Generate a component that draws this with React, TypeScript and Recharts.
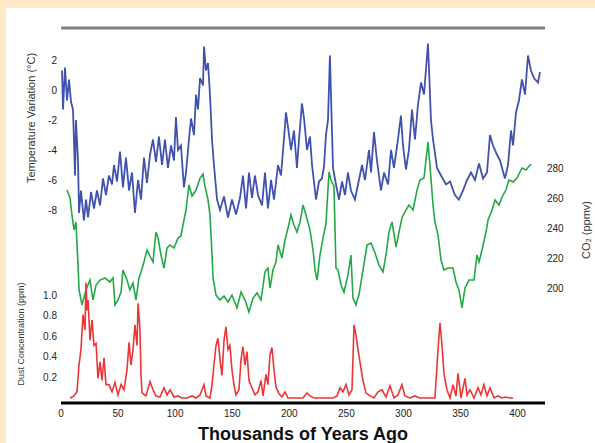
import { ComposedChart, LineChart, Line, XAxis, YAxis } from "recharts";

// thousands of years before present
const ageTicks = [0, 50, 100, 150, 200, 250, 300, 350, 400];
const tempTicks = [-8, -6, -4, -2, 0, 2];
const co2Ticks = [200, 220, 240, 260, 280];
const dustTicks = [0.2, 0.4, 0.6, 0.8, 1.0];

const tempAge = [0.9,1.8,3.5,5.3,7.0,8.8,10.5,12.3,13.1,14.9,15.8,17.5,20.1,21.9,23.7,26.3,28.9,31.5,34.2,36.8,39.4,42.0,44.7,46.4,49.1,51.7,54.3,56.9,59.6,62.2,64.8,67.5,70.1,72.7,75.3,78.0,80.6,83.2,85.8,88.5,91.1,93.7,96.4,99.0,100.7,102.5,105.1,107.7,109.5,112.1,113.9,116.5,118.3,120.0,121.8,124.4,125.3,127.0,128.8,130.5,132.3,134.0,136.7,139.3,142.8,146.3,149.8,153.3,156.8,159.4,162.1,164.7,167.3,169.9,172.6,176.1,178.7,181.3,184.0,186.6,190.1,192.7,195.3,197.1,198.9,201.5,204.1,206.7,208.5,211.1,212.9,215.5,218.1,219.9,223.4,226.0,228.6,230.4,232.1,233.9,235.6,236.5,238.3,240.9,243.5,246.2,248.8,251.4,254.0,257.5,260.2,263.7,266.3,269.8,271.6,274.2,276.8,280.3,283.0,286.5,289.1,291.7,295.2,297.8,299.6,302.2,304.8,307.5,310.1,312.7,315.4,318.0,321.5,324.1,325.9,329.4,332.9,337.3,340.8,345.1,348.6,352.2,355.7,359.2,362.7,366.2,369.7,373.2,375.8,378.4,381.9,384.6,388.9,391.6,394.2,396.0,398.6,401.2,403.8,406.5,409.1,411.7,414.3,417.9,419.6];
const tempValue = [1.3,-1.3,1.5,-0.7,0.7,-0.8,-1.3,-5.7,-2.0,-4.7,-8.2,-6.7,-8.7,-7.3,-8.5,-6.8,-7.9,-6.7,-7.7,-5.9,-7.0,-5.7,-6.3,-5.0,-6.1,-4.1,-6.5,-4.5,-6.7,-5.5,-8.2,-6.0,-7.3,-4.5,-6.2,-4.3,-3.3,-4.8,-3.1,-5.0,-3.3,-5.2,-3.7,-4.7,-1.8,-4.0,-3.7,-6.5,-5.5,-3.3,-1.9,-3.0,-0.3,-1.3,0.8,0.3,2.9,1.3,1.8,-0.3,-3.3,-5.0,-7.3,-8.0,-7.1,-8.5,-7.3,-8.3,-7.2,-5.7,-7.9,-5.5,-7.2,-5.7,-7.0,-7.7,-5.5,-7.9,-6.0,-7.3,-5.0,-5.7,-3.3,-1.5,-2.5,-4.0,-2.7,-5.2,-3.3,-0.9,-1.9,-4.0,-3.1,-5.0,-7.3,-6.1,-5.9,-5.1,-3.0,-2.0,2.3,-0.3,-5.2,-6.3,-7.3,-6.1,-7.0,-5.5,-6.7,-7.3,-6.3,-5.0,-6.0,-4.0,-5.5,-2.8,-4.7,-6.7,-5.5,-6.3,-4.0,-5.2,-3.3,-1.7,-3.7,-5.3,-4.0,-1.3,-3.3,-1.0,0.5,-0.3,3.1,-2.0,-3.3,-5.2,-5.7,-6.3,-6.1,-7.0,-7.3,-6.7,-6.0,-5.5,-6.0,-4.9,-5.9,-5.5,-3.0,-3.7,-4.3,-4.7,-5.9,-5.0,-2.7,-3.7,-1.5,-0.7,0.7,-0.3,2.3,1.3,0.8,0.5,1.2];

const co2Age = [5.3,7.9,9.6,11.4,13.1,14.9,15.8,18.4,21.9,25.4,28.0,30.7,34.2,38.5,42.9,45.6,47.3,49.9,52.6,54.3,57.8,60.4,63.1,65.7,68.3,70.1,72.7,75.3,78.8,80.6,83.2,85.0,87.6,90.2,92.9,95.5,99.0,102.5,105.1,106.9,109.5,112.1,114.8,118.3,121.8,124.4,126.1,128.8,130.5,132.3,133.2,135.8,139.3,142.8,146.3,149.8,154.2,157.7,161.2,164.7,168.2,171.7,175.2,178.7,181.3,183.1,185.7,188.3,190.1,193.6,196.2,198.9,201.5,204.1,206.7,209.4,212.0,214.6,218.1,220.8,222.5,224.3,226.9,229.5,232.1,234.8,236.5,239.1,240.9,242.7,245.3,247.9,251.4,254.0,255.8,258.4,261.0,264.6,268.1,271.6,275.1,278.6,282.1,284.7,287.3,290.0,293.5,296.1,298.7,301.3,304.8,308.4,311.9,314.5,318.0,321.5,323.2,325.9,327.6,330.3,332.9,335.5,339.0,343.4,346.0,348.6,351.3,353.9,357.4,361.8,364.4,366.2,368.8,372.3,374.1,377.6,380.2,383.7,387.2,389.8,392.4,396.0,399.5,403.8,407.3,411.7];
const co2Value = [265.3,260.0,248.7,238.7,244.0,215.3,198.7,188.7,198.7,205.3,192.0,202.0,205.3,206.7,204.0,206.7,188.7,192.0,197.3,212.0,205.3,198.7,203.3,192.0,206.7,210.7,217.3,225.3,220.0,217.3,237.3,233.3,222.0,213.3,226.7,228.7,226.7,233.3,234.7,242.0,252.0,268.7,261.3,265.3,273.3,276.0,268.0,258.7,248.7,222.0,206.7,195.3,192.0,194.7,190.7,195.3,186.7,197.3,192.0,184.0,193.3,196.7,192.0,210.7,213.3,200.0,212.0,217.3,228.7,220.0,232.0,240.0,248.7,242.0,237.3,244.0,255.3,248.7,238.7,225.3,212.0,205.3,222.0,233.3,242.7,277.3,272.0,268.0,213.3,212.0,202.0,197.3,208.7,222.0,193.3,188.7,195.3,212.0,228.7,230.0,223.3,215.3,210.7,222.0,237.3,244.0,227.3,237.3,246.7,250.7,255.3,252.0,265.3,272.0,273.3,297.3,282.0,255.3,244.0,235.3,218.7,212.0,213.3,213.3,204.0,198.7,186.7,200.0,205.3,205.3,222.0,217.3,225.3,237.3,245.3,252.0,258.7,255.3,262.0,265.3,272.0,270.7,273.3,280.0,278.7,282.7];

const dustAge = [7.9,11.4,14.0,15.8,17.5,19.3,21.0,21.9,22.8,23.7,25.4,27.2,28.9,30.7,32.4,34.2,35.9,37.7,39.4,42.0,44.7,47.3,49.9,52.6,55.2,57.8,59.6,61.3,63.1,64.8,66.6,67.5,69.2,70.1,71.0,74.5,78.0,80.6,83.2,86.7,90.2,92.9,95.5,99.0,102.5,106.0,110.4,114.8,118.3,121.8,125.3,127.0,130.5,132.3,134.0,135.8,137.5,139.3,141.0,142.8,144.5,146.3,148.0,149.8,151.5,153.3,155.9,157.7,159.4,161.2,162.9,164.7,167.3,169.9,172.6,175.2,177.0,179.6,181.3,183.1,184.8,186.6,188.3,191.0,193.6,196.2,198.9,203.2,207.6,212.0,215.5,218.1,221.6,225.1,229.5,233.9,238.3,241.8,244.4,247.0,249.7,252.3,254.9,256.7,258.4,260.2,261.9,263.7,265.4,267.2,270.7,274.2,277.7,281.2,284.7,288.2,291.7,295.2,298.7,301.3,305.7,310.1,314.5,318.9,323.2,327.6,330.3,332.0,333.8,335.5,338.1,340.8,343.4,346.0,347.8,350.4,353.9,355.7,358.3,361.8,365.3,367.9,370.5,373.2,375.8,379.3,382.8,386.3,389.8,393.3,396.0];
const dustValue = [0.00,0.02,0.06,0.32,0.47,0.81,0.66,1.12,0.85,0.95,0.56,0.76,0.51,0.53,0.19,0.35,0.17,0.39,0.13,0.13,0.06,0.15,0.03,0.13,0.08,0.27,0.54,0.32,0.47,0.71,0.51,0.92,0.66,0.22,0.05,0.02,0.16,0.08,0.02,0.01,0.10,0.03,0.08,0.01,0.02,0.00,0.00,0.02,0.00,0.03,0.13,0.02,0.00,0.13,0.32,0.51,0.58,0.37,0.22,0.56,0.69,0.47,0.51,0.27,0.13,0.03,0.08,0.37,0.50,0.32,0.45,0.17,0.10,0.03,0.06,0.17,0.02,0.23,0.13,0.42,0.49,0.27,0.11,0.04,0.01,0.06,0.00,0.00,0.00,0.00,0.05,0.02,0.00,0.00,0.00,0.00,0.00,0.02,0.10,0.06,0.13,0.03,0.08,0.71,0.61,0.47,0.35,0.22,0.13,0.05,0.02,0.00,0.06,0.08,0.01,0.12,0.00,0.03,0.13,0.02,0.00,0.02,0.00,0.00,0.00,0.00,0.47,0.73,0.51,0.24,0.08,0.00,0.13,0.02,0.24,0.00,0.19,0.03,0.08,0.00,0.10,0.03,0.13,0.02,0.10,0.00,0.02,0.00,0.01,0.00,0.00];

const toRows = (ages: number[], values: number[]) => ages.map((age, i) => ({ age, value: values[i] }));

const tempData = toRows(tempAge, tempValue);
const co2Data = toRows(co2Age, co2Value);
const dustData = toRows(dustAge, dustValue);

const W = 595;
const H = 443;
const FONT = "'Liberation Sans', Arial, sans-serif";
const ageDomain: [number, number] = [0, 424];

const tickStyle = { fontSize: 10, fill: "#222", fontFamily: FONT };

function SideTitle({ text, x, y, size = 11 }: { text: string; x: number; y: number; size?: number }) {
  return (
    <div
      style={{
        position: "absolute",
        left: x,
        top: y,
        transform: "translate(-50%, -50%) rotate(-90deg)",
        whiteSpace: "nowrap",
        fontFamily: FONT,
        fontSize: size,
        color: "#333",
      }}
    >
      {text}
    </div>
  );
}

export default function App() {
  return (
    <div style={{ position: "absolute", left: 0, top: 0, width: W, height: H, background: "#FEE8C6", overflow: "hidden" }}>
      <div style={{ position: "absolute", left: 6, top: 8, right: 0, bottom: 0, background: "#fff" }} />

      <div style={{ position: "absolute", left: 0, top: 0 }}>
        <ComposedChart width={W} height={H} margin={{ top: 27, right: 0, bottom: 0, left: 0 }}>
          <XAxis
            xAxisId="bottom"
            type="number"
            dataKey="age"
            domain={ageDomain}
            ticks={ageTicks}
            allowDataOverflow
            height={40}
            axisLine={{ stroke: "#000", strokeWidth: 3 }}
            tickLine={false}
            tickSize={0}
            tickMargin={7}
            tick={tickStyle}
            label={{ value: "Thousands of Years Ago", position: "insideBottom", offset: 3, style: { fontSize: 18, fontWeight: 700, fill: "#111", fontFamily: FONT } }}
          />
          <XAxis
            xAxisId="top"
            orientation="top"
            type="number"
            dataKey="age"
            domain={ageDomain}
            allowDataOverflow
            height={1}
            tick={false}
            tickLine={false}
            axisLine={{ stroke: "#808080", strokeWidth: 3 }}
          />
          <YAxis
            yAxisId="temp"
            orientation="left"
            type="number"
            width={61}
            domain={[-20.867, 4.133]}
            ticks={tempTicks}
            allowDataOverflow
            axisLine={false}
            tickLine={false}
            tickSize={0}
            tickMargin={4}
            tick={tickStyle}
          />
          <YAxis
            yAxisId="co2"
            orientation="right"
            type="number"
            width={50}
            domain={[123.33, 373.33]}
            ticks={co2Ticks}
            allowDataOverflow
            axisLine={false}
            tickLine={false}
            tickSize={0}
            tickMargin={2}
            tick={tickStyle}
          />
          <Line
            data={co2Data}
            xAxisId="bottom"
            yAxisId="co2"
            dataKey="value"
            type="linear"
            stroke="#22A845"
            strokeWidth={1.6}
            dot={false}
            isAnimationActive={false}
          />
          <Line
            data={tempData}
            xAxisId="bottom"
            yAxisId="temp"
            dataKey="value"
            type="linear"
            stroke="#4152AE"
            strokeWidth={1.8}
            dot={false}
            isAnimationActive={false}
          />
        </ComposedChart>
      </div>

      <div style={{ position: "absolute", left: 0, top: 0 }}>
        <LineChart width={W} height={H} margin={{ top: 28, right: 50, bottom: 40, left: 0 }}>
          <XAxis type="number" dataKey="age" domain={ageDomain} allowDataOverflow hide />
          <YAxis
            type="number"
            width={61}
            domain={[-0.0485, 3.592]}
            ticks={dustTicks}
            allowDataOverflow
            axisLine={false}
            tickLine={false}
            tickSize={0}
            tickMargin={4}
            tick={tickStyle}
            tickFormatter={(v: number) => v.toFixed(1)}
          />
          <Line
            data={dustData}
            dataKey="value"
            type="linear"
            stroke="#EE3535"
            strokeWidth={1.6}
            dot={false}
            isAnimationActive={false}
          />
        </LineChart>
      </div>

      <SideTitle text="Temperature Variation (°C)" x={31} y={118} />
      <SideTitle text="Dust Concentration (ppm)" x={21} y={334} size={9} />
      <SideTitle text="CO₂ (ppmv)" x={586} y={230} />
    </div>
  );
}
